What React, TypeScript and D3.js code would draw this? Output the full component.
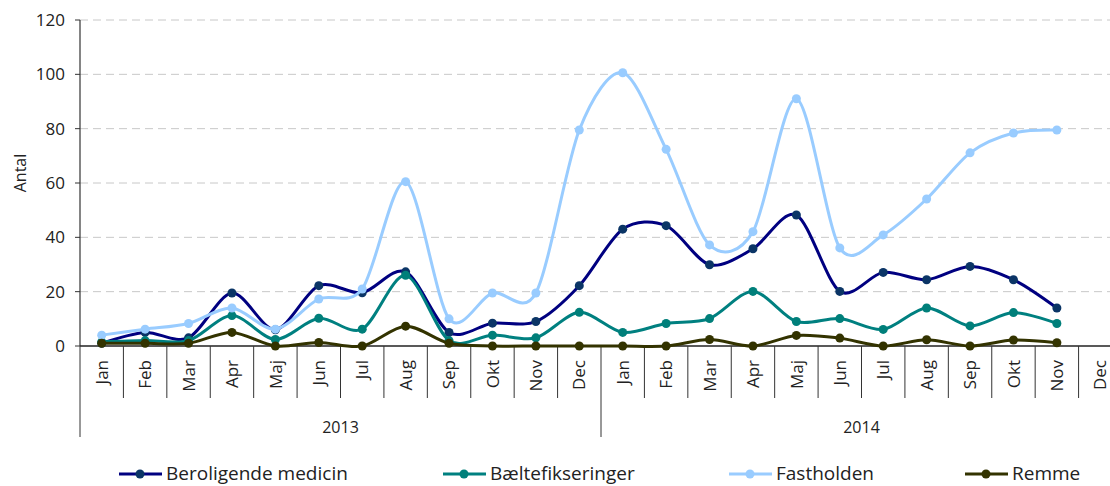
import { useEffect, useRef } from 'react'
import * as d3 from 'd3'

const MONTHS = ['Jan', 'Feb', 'Mar', 'Apr', 'Maj', 'Jun', 'Jul', 'Aug', 'Sep', 'Okt', 'Nov', 'Dec']
const YEARS = ['2013', '2014']

const BEROLIGENDE = [1, 5, 3, 19.5, 6, 22.2, 19.6, 27.3, 5, 8.4, 9, 22.2, 43, 44.3, 29.9, 35.8, 48.2, 20.1, 27.1, 24.4, 29.3, 24.4, 14]
const BAELTE = [1.5, 2, 2, 11.2, 2.4, 10.2, 6.2, 26, 2, 4, 3, 12.4, 5, 8.3, 10.1, 20.1, 9, 10.1, 6.1, 14, 7.4, 12.3, 8.3]
const FASTHOLDEN = [4, 6.2, 8.3, 14, 6.2, 17.3, 21, 60.5, 10, 19.5, 19.5, 79.5, 100.6, 72.4, 37.2, 42.1, 91, 36.1, 40.9, 54.1, 71.1, 78.4, 79.5]
const REMME = [1, 1, 1, 5, 0, 1.3, 0, 7.3, 1, 0, 0, 0, 0, 0, 2.4, 0, 3.9, 2.9, 0, 2.3, 0, 2.2, 1.2]

const SERIES = [
  { name: 'Beroligende medicin', values: BEROLIGENDE, line: '#000080', dot: '#0b3566' },
  { name: 'Bæltefikseringer', values: BAELTE, line: '#008080', dot: '#007f7a' },
  { name: 'Fastholden', values: FASTHOLDEN, line: '#99ccff', dot: '#99ccff' },
  { name: 'Remme', values: REMME, line: '#333300', dot: '#333300' },
]

const LEGEND_X = [119, 443, 729, 965]
const Y_TICKS = [0, 20, 40, 60, 80, 100, 120]

const FONT = '"Open Sans", "DejaVu Sans", sans-serif'

export default function App() {
  const ref = useRef<SVGSVGElement>(null)

  useEffect(() => {
    const svg = d3.select(ref.current)
    svg.selectAll('*').remove()

    const left = 80
    const right = 1122
    const top = 20
    const bottom = 346

    const cats = YEARS.flatMap((yr) => MONTHS.map((m) => `${yr}-${m}`))
    const x = d3.scaleBand<number>().domain(d3.range(cats.length)).range([left, right])
    const y = d3.scaleLinear().domain([0, 120]).range([bottom, top])
    const cx = (i: number) => (x(i) as number) + x.bandwidth() / 2

    // grid
    svg.append('g')
      .selectAll('line')
      .data(Y_TICKS.filter((t) => t > 0))
      .enter()
      .append('line')
      .attr('x1', left)
      .attr('x2', right)
      .attr('y1', (d) => y(d))
      .attr('y2', (d) => y(d))
      .attr('stroke', '#c8c8c8')
      .attr('stroke-width', 1)
      .attr('stroke-dasharray', '8,5')

    // y axis
    const yAxis = svg.append('g')
    yAxis.append('line')
      .attr('x1', left).attr('x2', left)
      .attr('y1', top).attr('y2', bottom)
      .attr('stroke', '#333').attr('stroke-width', 1.2)
    yAxis.selectAll('line.tick')
      .data(Y_TICKS)
      .enter()
      .append('line')
      .attr('class', 'tick')
      .attr('x1', left - 5).attr('x2', left)
      .attr('y1', (d) => y(d)).attr('y2', (d) => y(d))
      .attr('stroke', '#333')
    yAxis.selectAll('text')
      .data(Y_TICKS)
      .enter()
      .append('text')
      .attr('x', left - 15)
      .attr('y', (d) => y(d))
      .attr('dy', '0.36em')
      .attr('text-anchor', 'end')
      .attr('font-family', FONT)
      .attr('font-size', 17)
      .attr('fill', '#222')
      .text((d) => d)

    svg.append('text')
      .attr('transform', `translate(26,${(top + bottom) / 2 - 10}) rotate(-90)`)
      .attr('text-anchor', 'middle')
      .attr('font-family', FONT)
      .attr('font-size', 16)
      .attr('fill', '#222')
      .text('Antal')

    // x axis
    const xAxis = svg.append('g')
    xAxis.append('line')
      .attr('x1', left).attr('x2', right)
      .attr('y1', bottom).attr('y2', bottom)
      .attr('stroke', '#222').attr('stroke-width', 1.5)
    xAxis.selectAll('line.sep')
      .data(d3.range(cats.length + 1))
      .enter()
      .append('line')
      .attr('class', 'sep')
      .attr('x1', (i) => left + i * x.bandwidth())
      .attr('x2', (i) => left + i * x.bandwidth())
      .attr('y1', bottom)
      .attr('y2', (i) => (i % 12 === 0 ? 437 : 398))
      .attr('stroke', '#333')
      .attr('stroke-width', 1)
    xAxis.selectAll('text.month')
      .data(cats)
      .enter()
      .append('text')
      .attr('class', 'month')
      .attr('transform', (_, i) => `translate(${cx(i)},360) rotate(-90)`)
      .attr('dy', '0.36em')
      .attr('text-anchor', 'end')
      .attr('font-family', FONT)
      .attr('font-size', 17)
      .attr('fill', '#222')
      .text((d) => d.split('-')[1])
    xAxis.selectAll('text.year')
      .data(YEARS)
      .enter()
      .append('text')
      .attr('class', 'year')
      .attr('x', (_, i) => left + (i * 12 + 6) * x.bandwidth())
      .attr('y', 433)
      .attr('text-anchor', 'middle')
      .attr('font-family', FONT)
      .attr('font-size', 16)
      .attr('fill', '#222')
      .text((d) => d)

    // series
    const line = d3.line<number>()
      .x((_, i) => cx(i))
      .y((d) => y(d))
      .curve(d3.curveCardinal.tension(0.1))

    SERIES.forEach((s) => {
      const g = svg.append('g')
      g.append('path')
        .attr('d', line(s.values))
        .attr('fill', 'none')
        .attr('stroke', s.line)
        .attr('stroke-width', 3)
      g.selectAll('circle')
        .data(s.values)
        .enter()
        .append('circle')
        .attr('cx', (_, i) => cx(i))
        .attr('cy', (d) => y(d))
        .attr('r', 4.5)
        .attr('fill', s.dot)
    })

    // legend
    const legend = svg.append('g')
    SERIES.forEach((s, i) => {
      const lx = LEGEND_X[i]
      const ly = 474
      legend.append('line')
        .attr('x1', lx).attr('x2', lx + 43)
        .attr('y1', ly).attr('y2', ly)
        .attr('stroke', s.line).attr('stroke-width', 3)
      legend.append('circle')
        .attr('cx', lx + 21).attr('cy', ly).attr('r', 4.5)
        .attr('fill', s.dot)
      legend.append('text')
        .attr('x', lx + 47)
        .attr('y', ly)
        .attr('dy', '0.34em')
        .attr('font-family', FONT)
        .attr('font-size', 19)
        .attr('fill', '#222')
        .text(s.name)
    })
  }, [])

  return (
    <svg
      ref={ref}
      width={1110}
      height={486}
      style={{ position: 'absolute', left: 0, top: 0, background: '#fff' }}
    />
  )
}
